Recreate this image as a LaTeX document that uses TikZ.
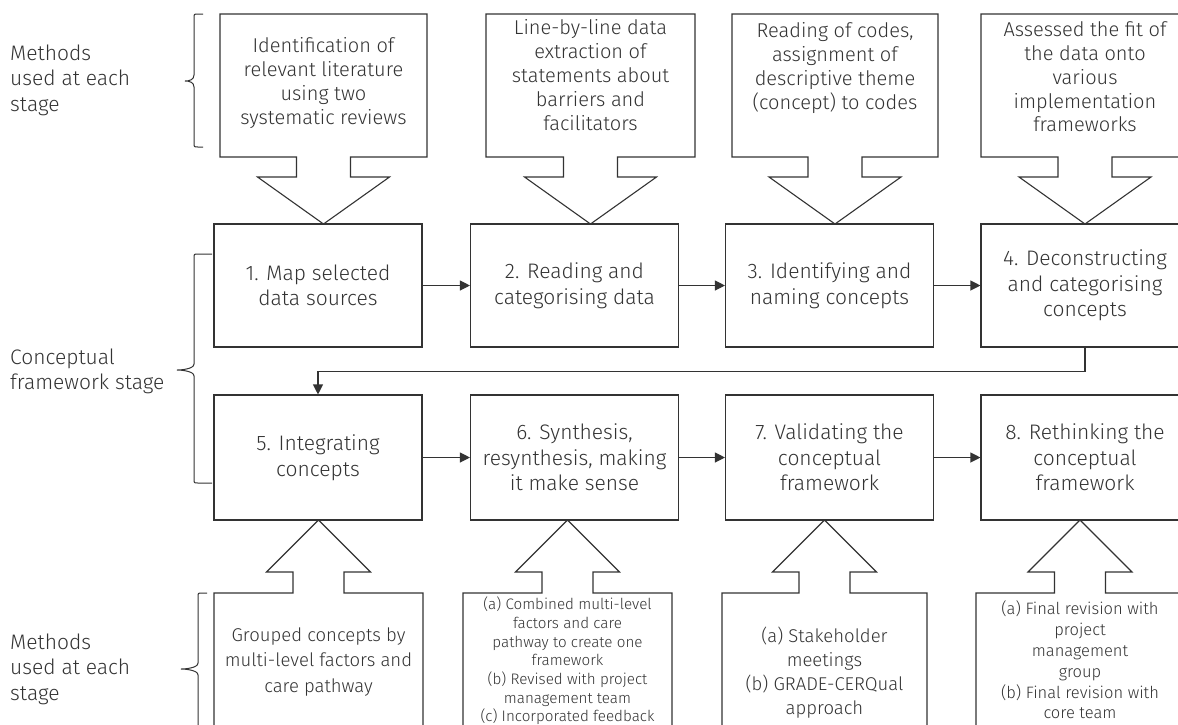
\documentclass[tikz,border=0pt]{standalone}
\usepackage{fontspec}
\IfFontExistsTF{Fira Sans Light}{\setmainfont{Fira Sans Light}}{\setmainfont{Fira Sans}}
\usetikzlibrary{arrows.meta}
\definecolor{ink}{HTML}{333333}
\newcommand\mycalldown[4]{% left, right, center x, top y of box
  \draw[outl] (#3-27,157) -- (#1,157) -- (#1,#4) -- (#2,#4) -- (#2,157) -- (#3+27,157) -- (#3+27,177) -- (#3+66,177) -- (#3,224) -- (#3-66,177) -- (#3-27,177) -- cycle;}
\newcommand\mycallup[3]{% left, right, center x
  \draw[outl] (#1,750) -- (#1,593) -- (#3-25.5,593) -- (#3-25.5,572) -- (#3-52,572) -- (#3,520) -- (#3+52,572) -- (#3+25.5,572) -- (#3+25.5,593) -- (#2,593) -- (#2,750);}
\newcommand\mybrace[6]{% tick x, vertical x, tip x, top, mid, bottom
  \draw[brc] (#1,#4) -- (#2+4,#4) .. controls (#2,#4) .. (#2,#4+4) -- (#2,#5-6)
    .. controls (#2,#5-1) and (#3+4,#5) .. (#3,#5)
    .. controls (#3+4,#5) and (#2,#5+1) .. (#2,#5+6) -- (#2,#6-4)
    .. controls (#2,#6) .. (#2+4,#6) -- (#1,#6);}
\begin{document}
\begin{tikzpicture}[x=1pt,y=-1pt]
\tikzset{
  outl/.style={draw=ink, line width=1.1pt, line join=miter},
  brc/.style={draw=ink, line width=1pt},
  stepbox/.style={draw=ink, line width=1.1pt, minimum width=208pt, inner sep=0pt, align=center, text=ink, font=\fontsize{21}{25.5}\selectfont},
  rowa/.style={minimum height=123pt},
  rowb/.style={minimum height=125pt},
  ctext/.style={align=center, text=ink, inner sep=0pt, font=\fontsize{20}{23.8}\selectfont},
  dbig/.style={align=center, text=ink, inner sep=0pt, font=\fontsize{18.5}{25.5}\selectfont},
  dmid/.style={align=center, text=ink, inner sep=0pt, font=\fontsize{18.5}{24}\selectfont},
  dsmall/.style={align=center, text=ink, inner sep=0pt, font=\fontsize{15.2}{18.7}\selectfont},
  dsmallb/.style={align=center, text=ink, inner sep=0pt, font=\fontsize{16.5}{20.8}\selectfont},
  lab/.style={align=left, anchor=west, text=ink, inner sep=0pt, font=\fontsize{21}{25.5}\selectfont},
  arr/.style={draw=ink, line width=1.1pt, -{Triangle[length=10pt,width=10pt]}},
}
\useasboundingbox (0,0) rectangle (1178,724);
\fill[white] (0,0) rectangle (1178,724);
\clip (0,0) rectangle (1178,724);

% left labels
\node[lab] (l1) at (10,80) {Methods\\used at each\\stage};
\node[lab] (l2) at (10,371.5) {Conceptual\\framework stage};
\node[lab] (l3) at (10,669) {Methods\\used at each\\stage};
\mybrace{203}{194}{185}{14}{81}{147}
\mybrace{212}{194}{177}{254}{370}{483}
\mybrace{207}{198}{181}{593}{669}{745}

% top callouts
\mycalldown{220}{427}{323.5}{14}
\mycalldown{486}{695}{590.5}{14}
\mycalldown{732}{938}{835}{14}
\mycalldown{981}{1189}{1085}{14}
\node[ctext] (c1) at (323.5,83) {Identification of\\relevant literature\\using two\\systematic reviews};
\node[ctext] (c2) at (590.5,75) {Line-by-line data\\extraction of\\statements about\\barriers and\\facilitators};
\node[ctext] (c3) at (835,68) {Reading of codes,\\assignment of\\descriptive theme\\(concept) to codes};
\node[ctext] (c4) at (1085,77) {Assessed the fit of\\the data onto\\various\\implementation\\frameworks};

% stage boxes
\node[stepbox,rowa] (b1) at (318,285.5) {1. Map selected\\data sources};
\node[stepbox,rowa] (b2) at (574.5,285.5) {2. Reading and\\categorising data};
\node[stepbox,rowa] (b3) at (829.5,285.5) {3. Identifying and\\naming concepts};
\node[stepbox,rowa] (b4) at (1085,285.5) {4. Deconstructing\\and categorising\\concepts};
\node[stepbox,rowb] (b5) at (318,457.5) {5. Integrating\\concepts};
\node[stepbox,rowb] (b6) at (574.5,457.5) {6. Synthesis,\\resynthesis, making\\it make sense};
\node[stepbox,rowb] (b7) at (829.5,457.5) {7. Validating the\\conceptual\\framework};
\node[stepbox,rowb] (b8) at (1085,457.5) {8. Rethinking the\\conceptual\\framework};

\draw[arr] (b1) -- (b2);
\draw[arr] (b2) -- (b3);
\draw[arr] (b3) -- (b4);
\draw[arr] (b4.south) -- ++(0,24) -| (b5.north);
\draw[arr] (b5) -- (b6);
\draw[arr] (b6) -- (b7);
\draw[arr] (b7) -- (b8);

% bottom callouts
\mycallup{214}{423}{318.5}
\mycallup{463}{672}{567.5}
\mycallup{722}{927}{824.5}
\mycallup{976}{1184}{1080}
\node[dbig] (d1) at (318.5,662) {Grouped concepts by\\multi-level factors and\\care pathway};
\node[dsmall] (d2) at (567.5,661) {(a) Combined multi-level\\factors and care\\pathway to create one\\framework\\(b) Revised with project\\management team\\(c) Incorporated feedback};
\node[dmid] (d3) at (824.5,673) {(a) Stakeholder\\meetings\\(b) GRADE-CERQual\\approach};
\node[dsmallb] (d4) at (1080,660) {(a) Final revision with\\project\\management\\group\\(b) Final revision with\\core team};
\end{tikzpicture}
\end{document}
